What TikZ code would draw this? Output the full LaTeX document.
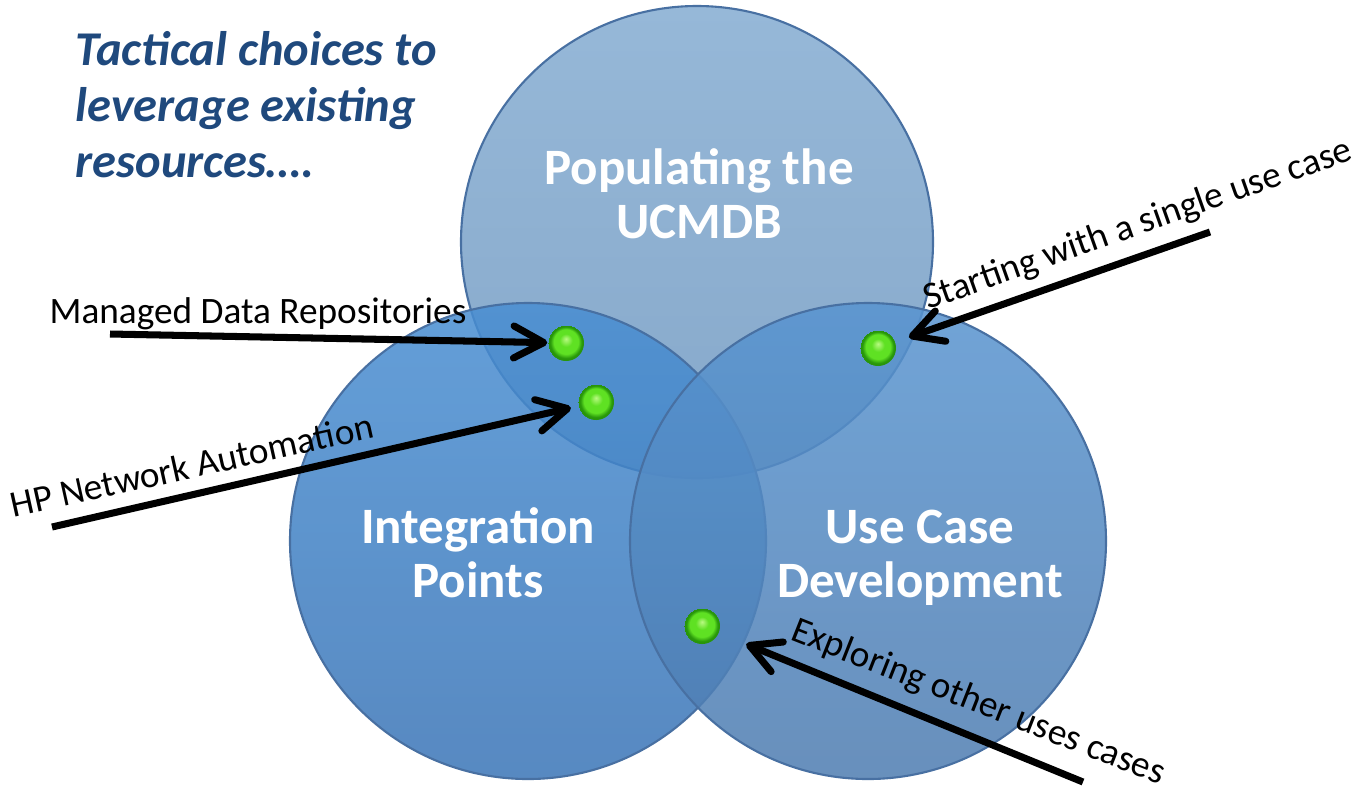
\documentclass[tikz,border=0pt]{standalone}
\usepackage{fontspec}
\setmainfont{Carlito}
\usetikzlibrary{arrows.meta}

\definecolor{titleblue}{RGB}{31,73,125}
\definecolor{rimblue}{RGB}{72,112,162}
\definecolor{topupper}{RGB}{150,184,216}
\definecolor{toplower}{RGB}{134,168,202}
\definecolor{leftupper}{RGB}{72,142,210}
\definecolor{leftlower}{RGB}{58,116,182}
\definecolor{rightupper}{RGB}{88,148,208}
\definecolor{rightlower}{RGB}{78,124,176}
\definecolor{dotlight}{RGB}{185,250,130}
\definecolor{dotmid}{RGB}{95,225,35}
\definecolor{dotdark}{RGB}{40,150,10}

\pgfdeclareradialshading{greenball}{\pgfpoint{0bp}{6bp}}{%
  color(0bp)=(dotlight); color(9bp)=(dotmid); color(17bp)=(dotmid);
  color(22bp)=(dotdark); color(25bp)=(dotdark)}

\tikzset{
  venn/.style={draw=rimblue, line width=0.6pt},
  venntext/.style={text=white, font=\fontsize{14.5}{15.1}\selectfont\bfseries,
    align=center, anchor=base, inner sep=0pt},
  callout/.style={font=\fontsize{10.6}{12}\selectfont, inner sep=0pt, anchor=base west},
  pointer/.style={line width=2pt, -{Straight Barb[length=3mm,width=3.2mm,round]}},
  dot/.style={circle, minimum size=3.6mm, inner sep=0pt, shading=greenball}
}

\begin{document}
\begin{tikzpicture}[x=0.01cm, y=-0.01cm]

    \useasboundingbox (0,0) rectangle (1360,790);

    \def\radTop{236}
    \def\radLow{238}

    \coordinate (topC) at (697,242);
    \coordinate (leftC) at (528,541);
    \coordinate (rightC) at (868,541);

    \path[venn, top color=topupper, bottom color=toplower] (topC) circle (\radTop);
    \path[venn, fill opacity=0.85, top color=leftupper, bottom color=leftlower] (leftC) circle (\radLow);
    \path[venn, fill opacity=0.85, top color=rightupper, bottom color=rightlower] (rightC) circle (\radLow);

    % last line sits on the given point
    \node[venntext] (populating) at (699,238) {Populating the\\UCMDB};
    \node[venntext] (integration) at (478,597) {Integration\\Points};
    \node[venntext] (usecase) at (920,597) {Use Case\\Development};

    \node[font=\fontsize{13.8}{15.9}\selectfont\bfseries\itshape, text=titleblue,
          align=left, anchor=base west, inner sep=0pt] (title) at (75,177)
          {Tactical choices to\\leverage existing\\resources….};

    \node[dot] (managed) at (566,343) {};
    \node[dot] (network) at (596,402) {};
    \node[dot] (single) at (878,348) {};
    \node[dot] (explore) at (702,626) {};

    \coordinate (managedTail) at (110,334);
    \coordinate (networkTail) at (52,527);
    \coordinate (singleTail) at (1210,232);
    \coordinate (exploreTail) at (1083,782);

    \draw[pointer] (managedTail) -- (managed);
    \draw[pointer, shorten >=0.7mm] (networkTail) -- (network);
    \draw[pointer, shorten >=1.4mm] (singleTail) -- (single);
    \draw[pointer, shorten >=2.9mm] (exploreTail) -- (explore);

    \node[callout] (managedText) at (49,323) {Managed Data Repositories};
    \node[callout, rotate=12.5] (networkText) at (13,518) {HP Network Automation};
    \node[callout, rotate=19.5] (singleText) at (928,310) {Starting with a single use case};
    \node[callout, rotate=-21.5] (exploreText) at (789,639) {Exploring other uses cases};

\end{tikzpicture}
\end{document}
